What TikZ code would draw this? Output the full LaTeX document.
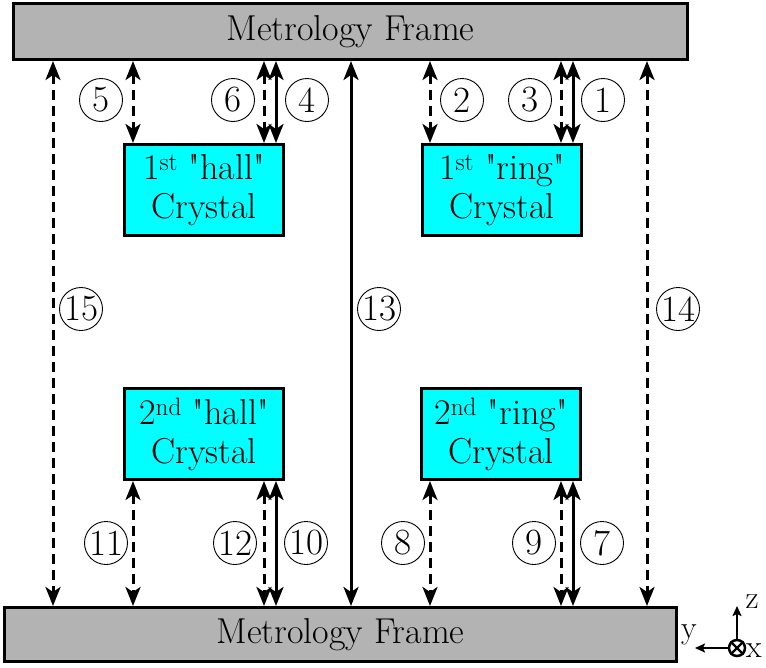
\documentclass[tikz,border=0pt]{standalone}
\usepackage{fontspec}
\setmainfont{Latin Modern Roman}
\usetikzlibrary{arrows.meta}
\definecolor{cryfill}{RGB}{0,255,255}
\definecolor{framefill}{RGB}{179,179,179}
\newcommand{\qq}{\textquotedbl}
\begin{document}
\begin{tikzpicture}[x=1pt,y=-1pt,
  frame/.style={draw, line width=3pt, fill=framefill, inner sep=0pt, font=\fontsize{36}{41}\selectfont},
  crystal/.style={draw, line width=3pt, fill=cryfill, minimum width=159pt, minimum height=91pt, inner sep=0pt, align=center, font=\fontsize{36}{39}\selectfont},
  num/.style={draw, circle, line width=0.9pt, minimum size=43pt, inner sep=0pt, font=\fontsize{37}{40}\selectfont},
  arr/.style={line width=3pt, {Stealth[length=19pt,width=15pt,inset=5pt]}-{Stealth[length=19pt,width=15pt,inset=5pt]}},
  darr/.style={arr, dash pattern=on 10pt off 6pt},
  axis/.style={line width=2.2pt, -{Stealth[length=10pt,width=9pt,inset=2pt]}},
  axlab/.style={font=\fontsize{32}{34}\selectfont, inner sep=0pt}
]
\useasboundingbox (0,0) rectangle (766,667);
% frames
\node[frame, minimum width=674pt, minimum height=56pt] (topF) at (350.5,31.5) {Metrology Frame};
\node[frame, minimum width=672pt, minimum height=54pt] (botF) at (340.5,634.5) {Metrology Frame};
% crystals
\node[crystal] (hallA) at (204,190) {1\textsuperscript{st} \qq hall\qq\\Crystal};
\node[crystal] (ringA) at (502,190) {1\textsuperscript{st} \qq ring\qq\\Crystal};
\node[crystal] (hallB) at (204,434) {2\textsuperscript{nd} \qq hall\qq\\Crystal};
\node[crystal] (ringB) at (501,434) {2\textsuperscript{nd} \qq ring\qq\\Crystal};
% columns
\coordinate (c15) at (53,0);
\coordinate (c5) at (133,0);
\coordinate (c6) at (264,0);
\coordinate (c4) at (276,0);
\coordinate (c13) at (351,0);
\coordinate (c2) at (430,0);
\coordinate (c3) at (561,0);
\coordinate (c1) at (573,0);
\coordinate (c14) at (647,0);
% top arrows
\draw[darr] (topF.south -| c5) -- (hallA.north -| c5);
\draw[darr] (topF.south -| c6) -- (hallA.north -| c6);
\draw[arr]  (topF.south -| c4) -- (hallA.north -| c4);
\draw[darr] (topF.south -| c2) -- (ringA.north -| c2);
\draw[darr] (topF.south -| c3) -- (ringA.north -| c3);
\draw[arr]  (topF.south -| c1) -- (ringA.north -| c1);
% long arrows
\draw[darr] (topF.south -| c15) -- (botF.north -| c15);
\draw[arr]  (topF.south -| c13) -- (botF.north -| c13);
\draw[darr] (topF.south -| c14) -- (botF.north -| c14);
% bottom arrows
\draw[darr] (hallB.south -| c5) -- (botF.north -| c5);
\draw[darr] (hallB.south -| c6) -- (botF.north -| c6);
\draw[arr]  (hallB.south -| c4) -- (botF.north -| c4);
\draw[darr] (ringB.south -| c2) -- (botF.north -| c2);
\draw[darr] (ringB.south -| c3) -- (botF.north -| c3);
\draw[arr]  (ringB.south -| c1) -- (botF.north -| c1);
% labels
\node[num] (n5) at (101,100) {5};
\node[num] (n6) at (233,100) {6};
\node[num] (n4) at (307,100) {4};
\node[num] (n2) at (462,100) {2};
\node[num] (n3) at (530,100) {3};
\node[num] (n1) at (603,100) {1};
\node[num] (n15) at (81,309) {15};
\node[num] (n13) at (379,309) {13};
\node[num] (n14) at (678,309) {14};
\node[num] (n11) at (106,543) {11};
\node[num] (n12) at (235,543) {12};
\node[num] (n10) at (306,543) {10};
\node[num] (n8) at (403,543) {8};
\node[num] (n9) at (534,543) {9};
\node[num] (n7) at (602,543) {7};
% axes
\node[draw, circle, line width=2.5pt, minimum size=16pt, inner sep=0pt] (ax) at (737,648) {};
\draw[line width=2.2pt] (ax.north west) -- (ax.south east) (ax.north east) -- (ax.south west);
\coordinate (zend) at (737,606);
\coordinate (yend) at (695,648);
\draw[axis] (ax.north) -- (zend);
\draw[axis] (ax.west) -- (yend);
\node[axlab] (lz) at (752,602) {z};
\node[axlab] (ly) at (689,635) {y};
\node[axlab] (lx) at (754,651) {x};
\end{tikzpicture}
\end{document}
